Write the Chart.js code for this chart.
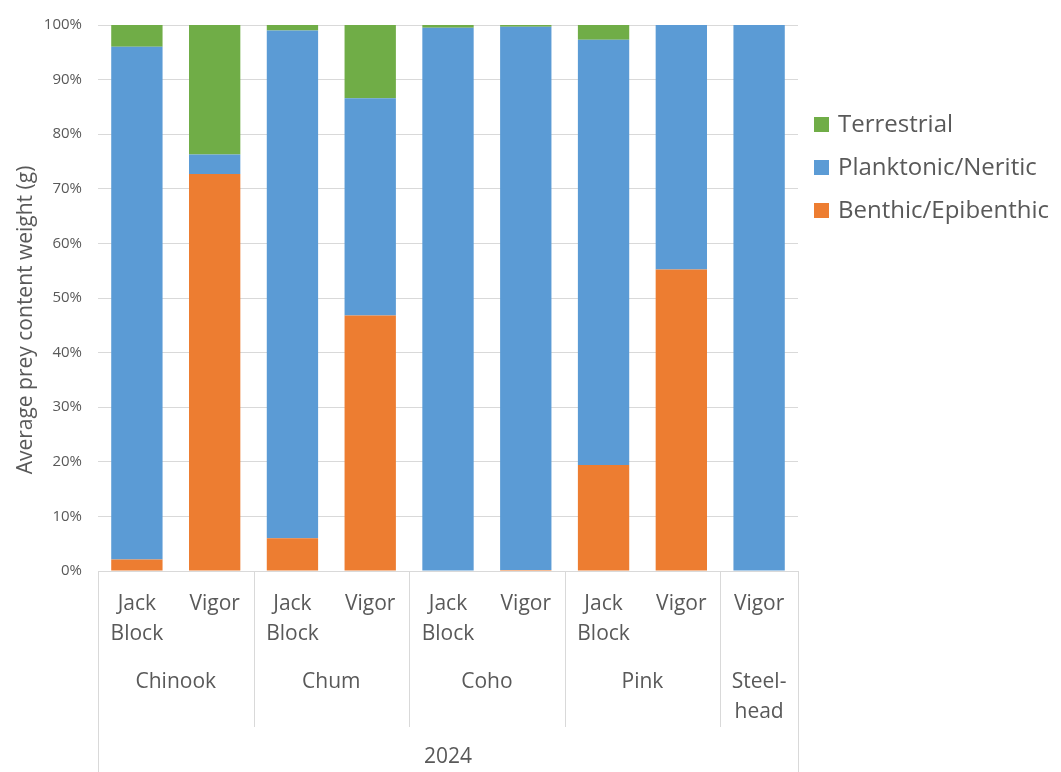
<!DOCTYPE html>
<html>
<head>
<meta charset="utf-8">
<script src="https://cdn.jsdelivr.net/npm/chart.js@4/dist/chart.umd.min.js"></script>
<style>
  html, body { margin: 0; padding: 0; background: #fff; }
  #wrap { width: 1061px; height: 772px; position: relative; }
</style>
</head>
<body>
<div id="wrap"><canvas id="chart"></canvas></div>
<script>
const sites = ['Jack Block', 'Vigor', 'Jack Block', 'Vigor', 'Jack Block', 'Vigor', 'Jack Block', 'Vigor', 'Vigor'];
const species = ['Chinook', 'Chinook', 'Chum', 'Chum', 'Coho', 'Coho', 'Pink', 'Pink', 'Steel-\nhead'];
const year = '2024';

const benthic = [2.1, 72.7, 6.0, 46.8, 0, 0.2, 19.4, 55.2, 0];
const planktonic = [93.9, 3.6, 93.0, 39.8, 99.5, 99.5, 77.9, 44.8, 100];
const terrestrial = [4.0, 23.7, 1.0, 13.4, 0.5, 0.3, 2.7, 0, 0];

const yTicks = [0, 10, 20, 30, 40, 50, 60, 70, 80, 90, 100];
const yTitle = 'Average prey content weight (g)';

const FONT = '"Open Sans", "Noto Sans", sans-serif';
const TEXT = '#595959';
const LINE = '#d9d9d9';

// multi-level category axis, y title and legend, drawn on the canvas
const axisAndLegend = {
  id: 'axisAndLegend',
  afterDraw(chart) {
    const ctx = chart.ctx;
    const xs = chart.scales.x;
    const area = chart.chartArea;
    const base = area.bottom;
    const px = i => xs.getPixelForValue(i);
    const half = (px(1) - px(0)) / 2;

    ctx.save();
    ctx.fillStyle = TEXT;
    ctx.textAlign = 'center';
    ctx.textBaseline = 'middle';

    // first level: site
    ctx.font = '21px ' + FONT;
    sites.forEach((s, i) => {
      s.split(' ').forEach((w, k) => ctx.fillText(w, px(i), base + 33 + k * 30));
    });

    // second level: species groups
    ctx.strokeStyle = LINE;
    ctx.lineWidth = 1;
    let start = 0;
    for (let i = 1; i <= species.length; i++) {
      if (i === species.length || species[i] !== species[start]) {
        const mid = (px(start) + px(i - 1)) / 2;
        species[start].split('\n').forEach((w, k) => ctx.fillText(w, mid, base + 111 + k * 30));
        if (i < species.length) {
          const sx = Math.round(px(i) - half) + 0.5;
          ctx.beginPath();
          ctx.moveTo(sx, base);
          ctx.lineTo(sx, base + 156);
          ctx.stroke();
        }
        start = i;
      }
    }

    // outer borders + year
    [area.left, area.right].forEach(v => {
      const sx = Math.round(v) + 0.5;
      ctx.beginPath();
      ctx.moveTo(sx, base);
      ctx.lineTo(sx, chart.height);
      ctx.stroke();
    });
    ctx.fillText(year, (area.left + area.right) / 2, base + 186);

    // y axis title
    ctx.save();
    ctx.translate(32, 320);
    ctx.rotate(-Math.PI / 2);
    ctx.font = '21px ' + FONT;
    ctx.textBaseline = 'alphabetic';
    ctx.fillText(yTitle, 0, 0);
    ctx.restore();

    // legend
    ctx.textAlign = 'left';
    ctx.font = '24px ' + FONT;
    const items = chart.data.datasets.slice().reverse();
    items.forEach((d, k) => {
      const y = 124 + k * 43;
      ctx.fillStyle = d.backgroundColor;
      ctx.fillRect(814, y - 7, 15, 15);
      ctx.fillStyle = TEXT;
      ctx.fillText(d.label, 838, y + 1);
    });
    ctx.restore();
  }
};

new Chart(document.getElementById('chart'), {
  type: 'bar',
  data: {
    labels: sites,
    datasets: [
      { label: 'Benthic/Epibenthic', data: benthic, backgroundColor: '#ED7D31' },
      { label: 'Planktonic/Neritic', data: planktonic, backgroundColor: '#5B9BD5' },
      { label: 'Terrestrial', data: terrestrial, backgroundColor: '#70AD47' }
    ]
  },
  options: {
    responsive: true,
    maintainAspectRatio: false,
    animation: false,
    datasets: {
      bar: { categoryPercentage: 1, barPercentage: 0.66, borderWidth: 0 }
    },
    layout: { padding: { top: 23, right: 263, left: 0, bottom: 0 } },
    plugins: {
      legend: { display: false },
      tooltip: { enabled: false }
    },
    scales: {
      x: {
        stacked: true,
        grid: { display: false },
        border: { display: true, color: LINE },
        ticks: { display: false },
        afterFit(scale) { scale.height = 201; }
      },
      y: {
        stacked: true,
        min: 0,
        max: 100,
        afterBuildTicks(scale) { scale.ticks = yTicks.map(v => ({ value: v })); },
        ticks: {
          callback: v => v + '%',
          color: TEXT,
          font: { family: FONT, size: 15 },
          padding: 16
        },
        grid: { color: LINE, drawTicks: false },
        border: { display: false },
        afterFit(scale) { scale.width = 98; }
      }
    }
  },
  plugins: [axisAndLegend]
});
</script>
</body>
</html>
